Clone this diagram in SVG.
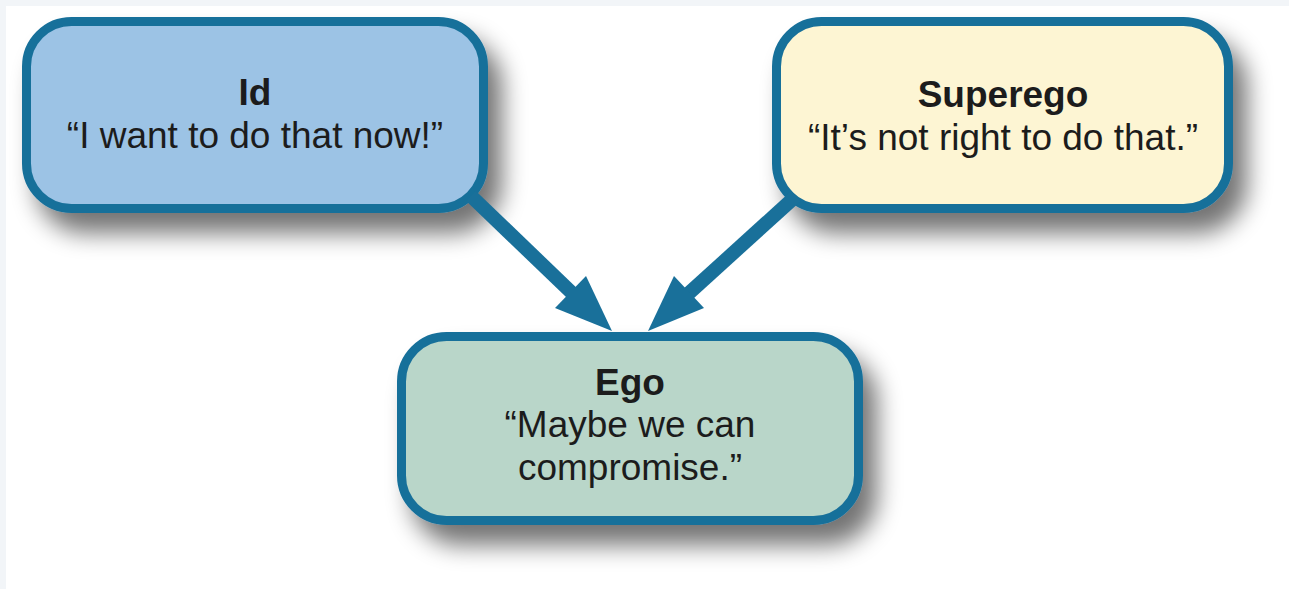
<svg xmlns="http://www.w3.org/2000/svg" width="1289" height="589" viewBox="0 0 1289 589">
<defs>
<filter id="sh" x="-20%" y="-30%" width="150%" height="190%">
<feGaussianBlur in="SourceAlpha" stdDeviation="12"/>
<feOffset dx="14" dy="20" result="b"/>
<feComponentTransfer><feFuncA type="linear" slope="0.55"/></feComponentTransfer>
<feMerge><feMergeNode/><feMergeNode in="SourceGraphic"/></feMerge>
</filter>
</defs>
<style>
.box{stroke:#19709a;stroke-width:9}
.t{font-family:"Liberation Sans",Arial,sans-serif;font-size:37px;fill:#1c1c1c;text-anchor:middle}
.b{font-weight:bold}
.arr{fill:#19709a}
.shaft{stroke:#19709a;stroke-width:14;fill:none}
</style>
<rect width="1289" height="589" fill="#f2f5f8"/>
<rect x="6" y="6" width="1283" height="583" fill="#ffffff"/>
<g id="id">
<rect class="box" x="26.5" y="21.5" width="457" height="187" rx="45" fill="#9cc3e5" filter="url(#sh)"/>
<text class="t b" x="255" y="105">Id</text>
<text class="t" x="255" y="148">“I want to do that now!”</text>
</g>
<g id="superego">
<rect class="box" x="776.5" y="21.5" width="452" height="187" rx="45" fill="#fdf5d3" filter="url(#sh)"/>
<text class="t b" x="1003" y="107">Superego</text>
<text class="t" x="1003" y="150">“It’s not right to do that.”</text>
</g>
<g id="ego">
<rect class="box" x="401.5" y="336.5" width="457" height="184" rx="45" fill="#b9d6c9" filter="url(#sh)"/>
<text class="t b" x="630" y="395">Ego</text>
<text class="t" x="630" y="437">“Maybe we can</text>
<text class="t" x="630" y="480">compromise.”</text>
</g>
<g id="connectors">
<line class="shaft" x1="471" y1="196" x2="573" y2="294"/>
<polygon class="arr" points="612,331 555,308 586,276"/>
<line class="shaft" x1="796" y1="196" x2="688" y2="294"/>
<polygon class="arr" points="648,331 674,276 704,308"/>
</g>
</svg>
